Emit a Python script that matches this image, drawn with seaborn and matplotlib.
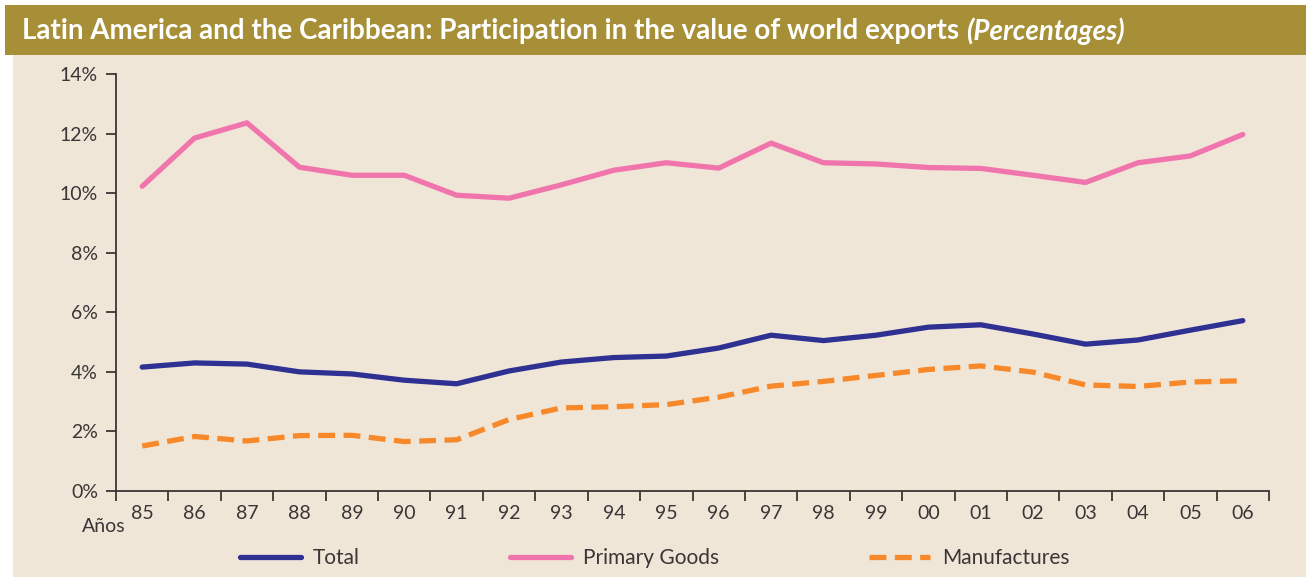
import numpy as np
import pandas as pd
import matplotlib
matplotlib.use("Agg")
import matplotlib.pyplot as plt
from matplotlib.patches import Rectangle
from matplotlib.ticker import FixedLocator, FuncFormatter
import seaborn as sns

YEARS = ["85", "86", "87", "88", "89", "90", "91", "92", "93", "94", "95",
         "96", "97", "98", "99", "00", "01", "02", "03", "04", "05", "06"]
TOTAL = [4.16, 4.30, 4.26, 4.00, 3.93, 3.72, 3.60, 4.03, 4.33, 4.48, 4.53,
         4.80, 5.23, 5.05, 5.23, 5.50, 5.58, 5.27, 4.93, 5.07, 5.40, 5.72]
PRIMARY = [10.23, 11.85, 12.36, 10.87, 10.60, 10.60, 9.93, 9.83, 10.28, 10.77, 11.02,
           10.84, 11.68, 11.02, 10.98, 10.86, 10.83, 10.60, 10.36, 11.02, 11.25, 11.97]
MANUF = [1.51, 1.83, 1.68, 1.86, 1.87, 1.66, 1.72, 2.40, 2.79, 2.83, 2.90,
         3.15, 3.52, 3.68, 3.88, 4.08, 4.20, 3.99, 3.56, 3.51, 3.66, 3.70]

BG = "#F0E6D8"
BAND = "#A68F36"
INK = "#3A3636"

sns.set_theme(style="white")
plt.rcParams["font.family"] = ["Lato", "DejaVu Sans"]

x = np.arange(len(YEARS))
df = pd.DataFrame({"x": x, "Total": TOTAL, "Primary Goods": PRIMARY, "Manufactures": MANUF})

fig = plt.figure(figsize=(13.06, 5.77), dpi=100)
fig.patch.set_facecolor("white")

# beige panel and title band, behind the axes
fig.patches.append(Rectangle((13 / 1306, 0), 1, 1 - 55 / 577, transform=fig.transFigure,
                             facecolor=BG, edgecolor="none", zorder=-10))
fig.patches.append(Rectangle((5 / 1306, 1 - 55 / 577), 1, 50 / 577, transform=fig.transFigure,
                             facecolor=BAND, edgecolor="none", zorder=-10))
t = fig.text(22 / 1306, 1 - 31 / 577,
             "Latin America and the Caribbean: Participation in the value of world exports ",
             color="white", fontsize=20, fontweight="bold", va="center", ha="left")
fig.canvas.draw()
bb = t.get_window_extent()
fig.text(bb.x1 / 1306, 1 - 31 / 577, "(Percentages)", color="white", fontsize=20,
         fontweight="bold", fontstyle="italic", va="center", ha="left")

ax = fig.add_axes([116 / 1306, 1 - 491 / 577, (1269 - 116) / 1306, (491 - 74) / 577])
ax.set_facecolor("none")

sns.lineplot(data=df, x="x", y="Total", ax=ax, color="#2E3192", lw=3.8, label="Total")
sns.lineplot(data=df, x="x", y="Primary Goods", ax=ax, color="#F075AC", lw=3.8, label="Primary Goods")
sns.lineplot(data=df, x="x", y="Manufactures", ax=ax, color="#F7892A", lw=3.8, label="Manufactures")
ax.lines[-1].set_dashes([3.2, 1.6])

ax.set_xlim(-0.5, len(YEARS) - 0.5)
ax.set_ylim(0, 14)
ax.set_yticks(np.arange(0, 15, 2))
ax.yaxis.set_major_formatter(FuncFormatter(lambda v, p: f"{v:.0f}%"))
ax.set_xticks(x)
ax.set_xticklabels(YEARS)
ax.xaxis.set_minor_locator(FixedLocator(np.arange(-0.5, len(YEARS), 1.0)))
ax.tick_params(axis="x", which="major", length=0, pad=10, labelsize=14, labelcolor=INK)
ax.tick_params(axis="x", which="minor", length=7, width=1.3, color=INK, direction="out", bottom=True)
ax.tick_params(axis="y", length=7, width=1.3, color=INK, direction="out", left=True,
               labelsize=14, labelcolor=INK, pad=6)
ax.set_xlabel("")
ax.set_ylabel("")
for side in ["top", "right"]:
    ax.spines[side].set_visible(False)
for side in ["left", "bottom"]:
    ax.spines[side].set_color(INK)
    ax.spines[side].set_linewidth(1.3)

fig.text(82 / 1306, 1 - 526 / 577, "Años", fontsize=14, color=INK, va="center", ha="left")

handles, labels = ax.get_legend_handles_labels()
ax.get_legend().remove()
fig.legend(handles, labels, loc="center", bbox_to_anchor=(655 / 1306, 1 - 558 / 577), ncol=3,
           frameon=False, fontsize=15, handlelength=2.9, columnspacing=7.2, handletextpad=0.6,
           labelcolor=INK)

fig.savefig("out.png", dpi=100, facecolor="white")
